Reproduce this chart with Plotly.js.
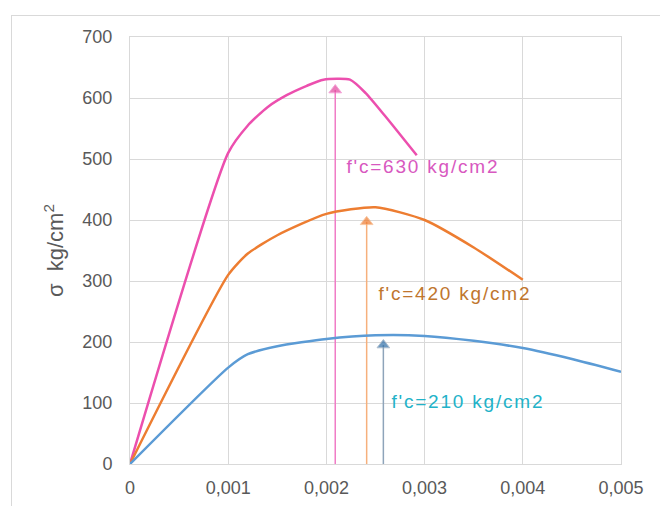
<!DOCTYPE html>
<html><head><meta charset="utf-8">
<script src="https://cdn.plot.ly/plotly-3.0.1.min.js"></script>
<style>
html,body{margin:0;padding:0;background:#fff;}
#frame{position:absolute;left:11px;top:15px;width:700px;height:600px;border-left:1px solid #d9d9d9;border-top:1px solid #d9d9d9;}
#chart{position:absolute;left:0;top:0;width:660px;height:506px;}
</style></head>
<body>
<div id="frame"></div>
<div id="chart"></div>
<script>
// Strain values (x) and stress values (y) for each curve
const strain630 = [0, 0.001, 0.0012, 0.0014, 0.0016, 0.0018, 0.00197, 0.00224, 0.0024, 0.0026, 0.00292];
const stress630 = [0, 510, 555, 585, 605, 620, 630, 630, 608, 570, 506];
const strain420 = [0, 0.001, 0.0012, 0.0015, 0.002, 0.0025, 0.003, 0.0035, 0.004];
const stress420 = [0, 310, 345, 375, 410, 421, 400, 355, 302];
const strain210 = [0, 0.001, 0.0012, 0.0015, 0.002, 0.0025, 0.003, 0.0035, 0.004, 0.0045, 0.005];
const stress210 = [0, 158, 180, 193, 205, 211, 210, 202, 190, 172, 151];
// Peak arrows
const arrowStrain = [0.00209, 0.00241, 0.00258];
const arrowStress = [613, 397, 195];
const labelText = ["f'c=630 kg/cm2", "f'c=420 kg/cm2", "f'c=210 kg/cm2"];
const labelStrain = [0.00298, 0.00331, 0.00344];
const labelStress = [487, 280, 102];
// Axis ticks
const xTickVals = [0, 0.001, 0.002, 0.003, 0.004, 0.005];
const xTickText = ['0', '0,001', '0,002', '0,003', '0,004', '0,005'];
const yTickVals = [0, 100, 200, 300, 400, 500, 600, 700];
const yTickText = ['0', '100', '200', '300', '400', '500', '600', '700'];

const curveColors = ['#ec4fae', '#ed7d31', '#5b9bd5'];
const arrowLineColors = ['#f07cc6', '#f6b07c', '#8ea4ba'];
const arrowHeadColors = ['#e2459e', '#ee7a2e', '#2f6ea8'];
const labelColors = ['#d858c0', '#c0762e', '#22b2c8'];

const curves = [[strain630, stress630], [strain420, stress420], [strain210, stress210]];
const traces = [];
arrowStrain.forEach((xv, i) => {
  traces.push({
    x: [xv, xv], y: [0, arrowStress[i]], mode: 'lines+markers', type: 'scatter',
    line: {color: arrowLineColors[i], width: 1.5},
    marker: {symbol: 'triangle-up', size: [0, 11], color: arrowHeadColors[i]},
    hoverinfo: 'skip', showlegend: false
  });
});
curves.forEach((c, i) => {
  traces.push({
    x: c[0], y: c[1], mode: 'lines', type: 'scatter',
    line: {color: curveColors[i], width: 2.5, shape: 'spline', smoothing: 0.6},
    showlegend: false
  });
});

const annotations = labelText.map((t, i) => ({
  x: labelStrain[i], y: labelStress[i], xref: 'x', yref: 'y', text: t, showarrow: false,
  xanchor: 'center', yanchor: 'middle', align: 'center',
  font: {family: 'Liberation Sans, Arial, sans-serif', size: 19, color: labelColors[i]}
}));

const layout = {
  width: 660, height: 506,
  margin: {l: 130, r: 39, t: 37, b: 42},
  paper_bgcolor: 'rgba(0,0,0,0)', plot_bgcolor: '#fff',
  font: {family: 'Liberation Sans, Arial, sans-serif', size: 18, color: '#595959'},
  separators: ',.',
  xaxis: {
    range: [0, 0.005], tickvals: xTickVals, ticktext: xTickText,
    showgrid: true, gridcolor: '#d9d9d9', gridwidth: 1, zeroline: false,
    showline: true, linecolor: '#d9d9d9', mirror: true, ticks: '', ticklabelstandoff: 7,
    tickfont: {size: 18, color: '#595959'}
  },
  yaxis: {
    range: [0, 700], tickvals: yTickVals, ticktext: yTickText,
    showgrid: true, gridcolor: '#d9d9d9', gridwidth: 1, zeroline: false,
    showline: true, linecolor: '#d9d9d9', mirror: true, ticks: '', ticklabelstandoff: 13,
    tickfont: {size: 18, color: '#595959'},
    title: {text: 'σ  kg/cm<sup>2</sup>', standoff: 12, font: {size: 22, color: '#595959'}}
  },
  annotations: annotations
};

Plotly.newPlot('chart', traces, layout, {displayModeBar: false, staticPlot: true}).then(() => {
  document.querySelectorAll('#chart .annotation-text').forEach(el => {
    el.style.letterSpacing = '1.8px';
  });
});
</script>
</body></html>
